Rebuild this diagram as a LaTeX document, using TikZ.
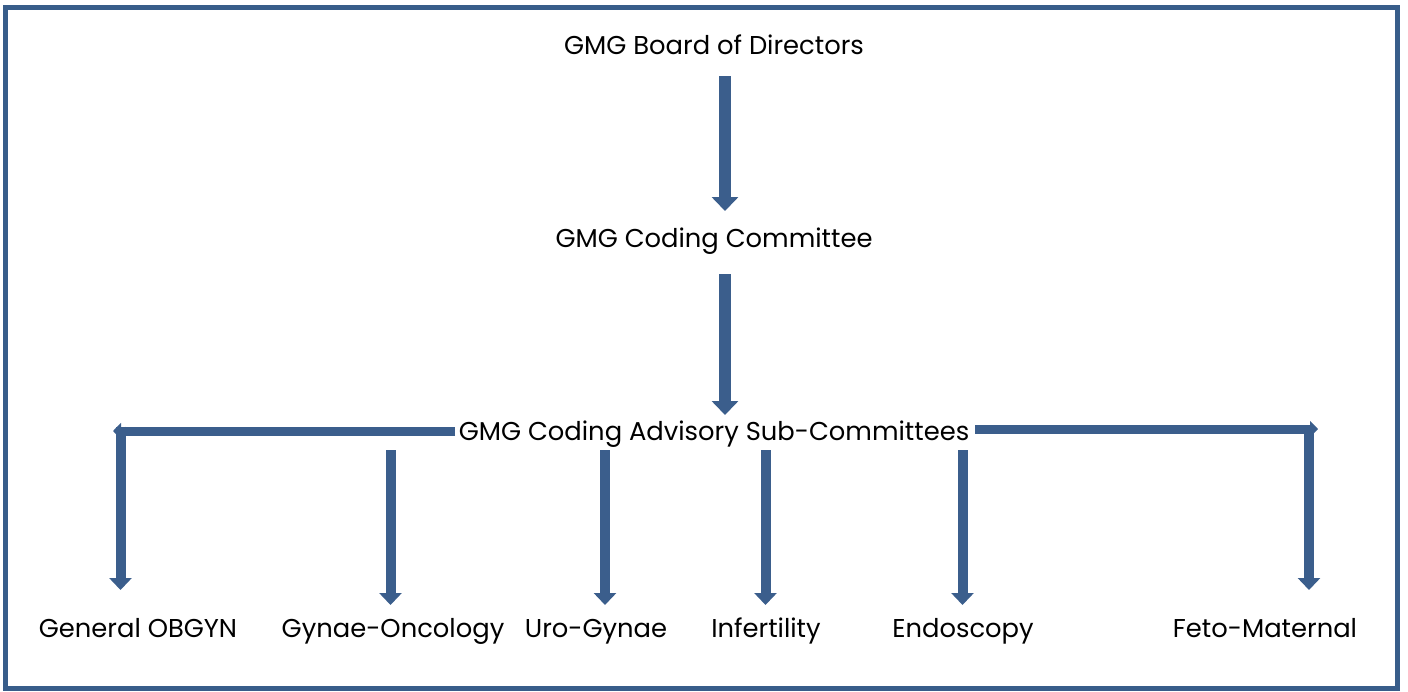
\documentclass[tikz,border=0pt]{standalone}
\usepackage{fontspec}
\setmainfont{Poppins}
\usetikzlibrary{arrows.meta}
\definecolor{frameblue}{HTML}{385D8A}
\definecolor{arrowblue}{HTML}{3B5E8C}
\tikzset{
  lbl/.style={inner sep=0pt, anchor=base, font=\fontsize{25.8}{30}\selectfont, text=black},
  bigarrow/.style={draw=arrowblue, line width=12pt, -{Triangle[width=26pt,length=14pt]}},
  subarrow/.style={draw=arrowblue, line width=10pt, -{Triangle[width=22pt,length=12pt]}},
  sidebar/.style={draw=arrowblue, line width=9pt, -{Triangle[width=16pt,length=8pt]}},
}
\begin{document}
\begin{tikzpicture}[x=1pt,y=-1pt]
\useasboundingbox (0,0) rectangle (1408,691);
\draw[frameblue, line width=5pt] (5.5,7.5) rectangle (1397.5,688.5);

\node[lbl] (board) at (714,54.5) {GMG Board of Directors};
\node[lbl] (coding) at (714,247.5) {GMG Coding Committee};
\node[lbl] (sub) at (714,440.5) {GMG Coding Advisory Sub-Committees};

\node[lbl] (gen) at (138,637.5) {General OBGYN};
\node[lbl] (onc) at (393,637.5) {Gynae-Oncology};
\node[lbl] (uro) at (596,637.5) {Uro-Gynae};
\node[lbl] (inf) at (766,637.5) {Infertility};
\node[lbl] (endo) at (963,637.5) {Endoscopy};
\node[lbl] (feto) at (1265,637.5) {Feto-Maternal};

% main vertical arrows
\coordinate (a1s) at (725,76);
\coordinate (a1e) at (725,211);
\coordinate (a2s) at (725,274);
\coordinate (a2e) at (725,415);
\draw[bigarrow] (a1s) -- (a1e);
\draw[bigarrow] (a2s) -- (a2e);

% left elbow
\coordinate (lstart) at (455,431);
\coordinate (ltip) at (113,431);
\coordinate (lcorner) at (120.5,426.5);
\coordinate (lend) at (120.5,590);
\draw[sidebar] (lstart) -- (ltip);
\draw[subarrow] (lcorner) -- (lend);

% right elbow
\coordinate (rstart) at (975,429);
\coordinate (rtip) at (1318,429);
\coordinate (rcorner) at (1309,424.5);
\coordinate (rend) at (1309,590);
\draw[sidebar] (rstart) -- (rtip);
\draw[subarrow] (rcorner) -- (rend);

% sub arrows
\foreach \n/\x in {o/390.5,u/605,i/765.5,e/962.5}{
  \coordinate (\n s) at (\x,450);
  \coordinate (\n e) at (\x,605);
  \draw[subarrow] (\n s) -- (\n e);
}
\end{tikzpicture}
\end{document}
